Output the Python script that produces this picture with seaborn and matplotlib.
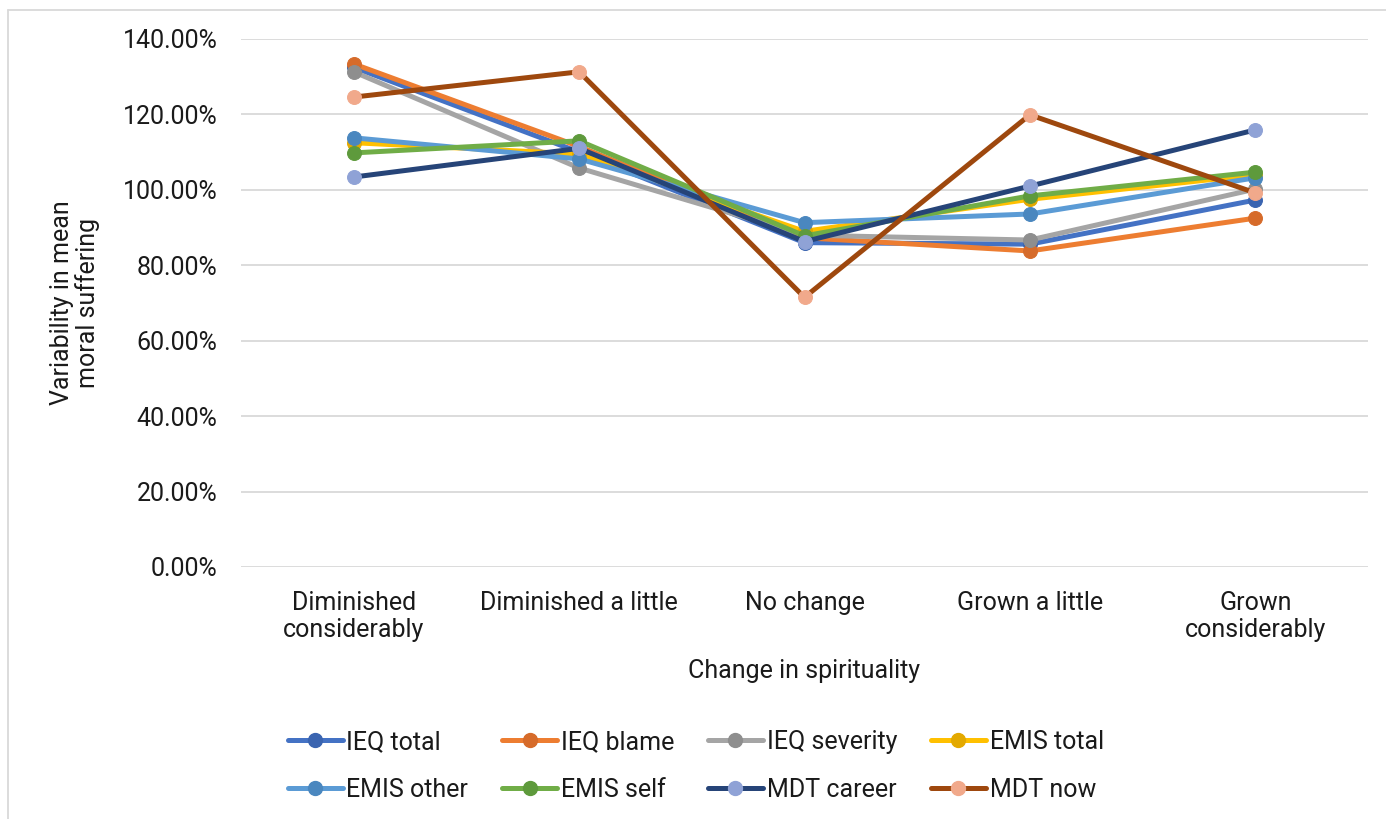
import matplotlib
matplotlib.use("Agg")
import matplotlib.pyplot as plt
import seaborn as sns
import pandas as pd
from matplotlib.lines import Line2D
from matplotlib.ticker import PercentFormatter

categories = ["Diminished\nconsiderably", "Diminished a little", "No change",
              "Grown a little", "Grown\nconsiderably"]

series_names = ["IEQ total", "IEQ blame", "IEQ severity", "EMIS total",
                "EMIS other", "EMIS self", "MDT career", "MDT now"]

ieq_total = [132.5, 110.0, 86.0, 85.6, 97.3]
ieq_blame = [133.4, 111.5, 87.3, 83.8, 92.5]
ieq_severity = [131.3, 105.8, 88.0, 86.7, 100.2]
emis_total = [112.5, 109.5, 89.0, 97.5, 104.0]
emis_other = [113.8, 108.2, 91.3, 93.6, 103.2]
emis_self = [109.8, 113.0, 87.8, 98.4, 104.7]
mdt_career = [103.4, 111.0, 86.3, 101.0, 115.9]
mdt_now = [124.6, 131.3, 71.5, 119.9, 99.2]

series_values = [ieq_total, ieq_blame, ieq_severity, emis_total,
                 emis_other, emis_self, mdt_career, mdt_now]

line_colors = ["#4472C4", "#ED7D31", "#A5A5A5", "#FFC000",
               "#5B9BD5", "#70AD47", "#264478", "#9E480E"]
marker_colors = ["#3A64B0", "#D66B2A", "#8E8E8E", "#E3A900",
                 "#4A87BF", "#5E9A3C", "#8FA2D6", "#F1A98B"]

rows = []
for name, vals in zip(series_names, series_values):
    for i, v in enumerate(vals):
        rows.append({"series": name, "pos": i, "value": v / 100.0})
df = pd.DataFrame(rows)

sns.set_theme(style="white")
plt.rcParams["font.family"] = ["Roboto", "DejaVu Sans"]
FS = 18
TXT = "#1a1a1a"

fig = plt.figure(figsize=(13.86, 8.19), dpi=100)
ax = fig.add_axes([241 / 1386, 1 - 567 / 819, (1368 - 241) / 1386, (567 - 39) / 819])

sns.lineplot(data=df, x="pos", y="value", hue="series", hue_order=series_names,
             palette=line_colors, marker="o", markersize=10, linewidth=3.6,
             sort=False, legend=False, ax=ax, zorder=3)

for line, mc in zip(ax.get_lines(), marker_colors):
    line.set_markerfacecolor(mc)
    line.set_markeredgecolor(mc)
    line.set_solid_joinstyle("round")

ax.set_xlim(-0.5, 4.5)
ax.set_ylim(0, 1.4)
ax.set_yticks([i * 0.2 for i in range(8)])
ax.yaxis.set_major_formatter(PercentFormatter(xmax=1.0, decimals=2))
ax.set_xticks(range(len(categories)))
ax.set_xticklabels(categories)
ax.tick_params(axis="both", length=0, labelsize=FS, colors=TXT)
ax.tick_params(axis="y", pad=17)
ax.tick_params(axis="x", pad=17)
ax.grid(axis="y", color="#d9d9d9", linewidth=1.3, zorder=0)
ax.set_axisbelow(True)
for s in ax.spines.values():
    s.set_visible(False)
ax.set_xlabel("")
ax.set_ylabel("")

fig.text(75 / 1386, 1 - 303 / 819, "Variability in mean\nmoral suffering",
         rotation=90, ha="center", va="center", multialignment="center",
         fontsize=FS, color=TXT, linespacing=1.1)
fig.text(804 / 1386, 1 - 671 / 819, "Change in spirituality",
         ha="center", va="center", fontsize=FS, color=TXT)

handles = [Line2D([], [], color=lc, linewidth=3.6, marker="o", markersize=10,
                  markerfacecolor=mc, markeredgecolor=mc)
           for lc, mc in zip(line_colors, marker_colors)]
# legend fills column by column; reorder so entries read across the rows
order = [0, 4, 1, 5, 2, 6, 3, 7]
fig.legend([handles[i] for i in order], [series_names[i] for i in order],
           loc="center", bbox_to_anchor=(0.502, 1 - 766 / 819),
           ncol=4, frameon=False, fontsize=FS, handlelength=2.2, handletextpad=0.15,
           columnspacing=1.35, labelspacing=0.95, labelcolor=TXT)

# chart-area outline (top and left edges)
fig.add_artist(Line2D([8 / 1386, 8 / 1386], [0, 1 - 10 / 819], color="#d9d9d9",
                      linewidth=1.3, transform=fig.transFigure))
fig.add_artist(Line2D([8 / 1386, 1], [1 - 10 / 819, 1 - 10 / 819], color="#d9d9d9",
                      linewidth=1.3, transform=fig.transFigure))

fig.savefig("out.png", dpi=100, facecolor="white")
